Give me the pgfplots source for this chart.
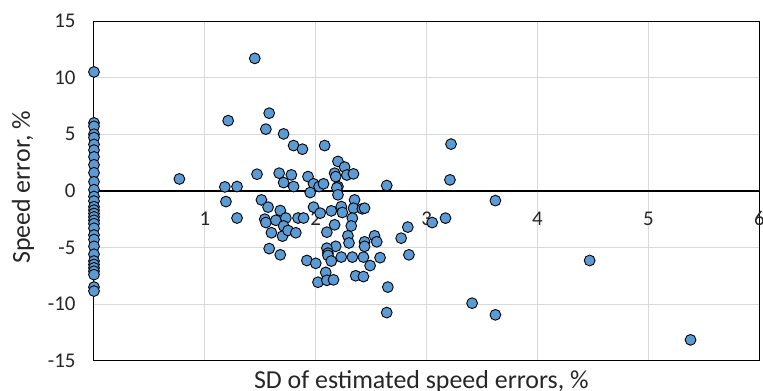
\documentclass[border=0pt]{standalone}
\usepackage{fontspec}
\setmainfont{Carlito}
\usepackage{pgfplots}
\pgfplotsset{compat=1.18}
\definecolor{ptblue}{HTML}{5B9BD5}
\definecolor{gridgray}{HTML}{D9D9D9}
\definecolor{txt}{HTML}{262626}
\pgfplotstableread{
x y
0 10.5
0 6.0
0 5.7
0 5.0
0 4.7
0 4.1
0 3.6
0 3.0
0 2.3
0 1.6
0 0.8
0 0.1
0 -0.5
0 -0.9
0 -1.4
0 -1.7
0 -2.0
0 -2.3
0 -2.6
0 -2.9
0 -3.3
0 -3.9
0 -4.3
0 -4.9
0 -5.6
0 -6.2
0 -6.5
0 -6.8
0 -7.1
0 -7.4
0 -8.5
0 -8.85
0.77 1.05
1.21 6.2
1.45 11.7
1.18 0.35
1.19 -0.95
1.29 0.38
1.29 -2.4
1.58 6.86
1.55 5.45
1.71 5.03
1.80 4.0
1.88 3.68
2.08 4.0
2.20 2.6
2.26 2.1
2.17 1.56
2.28 1.4
1.47 1.47
1.67 1.56
1.78 1.41
1.93 1.26
1.71 0.73
1.80 0.38
1.98 0.62
2.03 0.38
2.07 0.62
2.20 0.38
2.34 1.5
2.18 1.26
2.19 0.27
2.20 -0.35
2.64 0.47
1.95 -0.15
1.51 -0.8
1.57 -1.44
1.68 -1.74
1.54 -2.5
1.55 -2.8
1.64 -2.6
1.73 -2.4
1.71 -3.1
1.60 -3.7
1.70 -4.0
1.75 -3.5
1.82 -3.7
1.84 -2.4
1.89 -2.4
1.58 -5.1
1.68 -5.65
1.98 -1.44
2.04 -1.97
2.10 -3.65
2.17 -3.0
2.14 -1.77
2.23 -1.39
2.24 -1.91
2.35 -0.8
2.34 -1.53
2.42 -1.59
2.44 -1.53
2.33 -2.41
2.32 -3.1
2.29 -3.97
2.30 -4.6
2.18 -4.9
2.10 -5.06
2.11 -5.5
2.11 -5.7
2.14 -6.2
2.23 -5.85
2.33 -5.85
2.44 -4.5
2.44 -4.9
2.53 -3.97
2.55 -4.5
2.43 -5.85
2.49 -6.6
2.58 -5.9
1.92 -6.15
2.00 -6.4
2.09 -7.2
2.02 -8.07
2.10 -7.9
2.16 -7.86
2.36 -7.5
2.43 -7.57
2.65 -8.5
2.64 -10.75
2.77 -4.18
2.83 -3.2
2.84 -5.65
3.05 -2.8
3.17 -2.41
3.21 0.97
3.22 4.13
3.62 -0.86
4.47 -6.15
3.41 -9.92
3.62 -10.95
5.38 -13.16
}\pts
\begin{document}
\begin{tikzpicture}
\begin{axis}[
  scale only axis, width=665.3bp, height=339.7bp,
  xmin=0, xmax=6, ymin=-15, ymax=15,
  xtick={1,2,3,4,5,6}, ytick={-15,-10,-5,0,5,10,15},
  xticklabels={1,2,3,4,5,6}, yticklabels={-15,-10,-5,0,5,10,15},
  major tick length=0,
  grid=major, grid style={gridgray, line width=1bp},
  axis line style={black, line width=1bp},
  tick label style={font=\fontsize{21}{25}\selectfont, text=txt},
  xticklabel style={anchor=base, yshift=134.7bp},
  yticklabel style={anchor=east, xshift=-15bp},
  label style={font=\fontsize{26}{31}\selectfont, text=txt},
  xlabel={SD of estimated speed errors, \%},
  ylabel={Speed error, \%},
  xlabel style={at={(axis description cs:0.492,-0.0824)}, anchor=base},
  ylabel style={at={(axis description cs:-0.1067,0.51)}, anchor=center, rotate=0},
  clip=false,
]
\addplot[black, line width=1.3bp, forget plot] coordinates {(0,0) (6,0)};
\addplot[only marks, mark=*, mark size=5.4bp,
  mark options={fill=ptblue, draw=black, line width=0.9bp}] table[x=x,y=y] {\pts};
\end{axis}
\pgfresetboundingbox
\path[use as bounding box] ([shift={(-94bp,-30.3bp)}]current axis.south west) rectangle ([shift={(3.7bp,21bp)}]current axis.north east);
\end{tikzpicture}
\end{document}
